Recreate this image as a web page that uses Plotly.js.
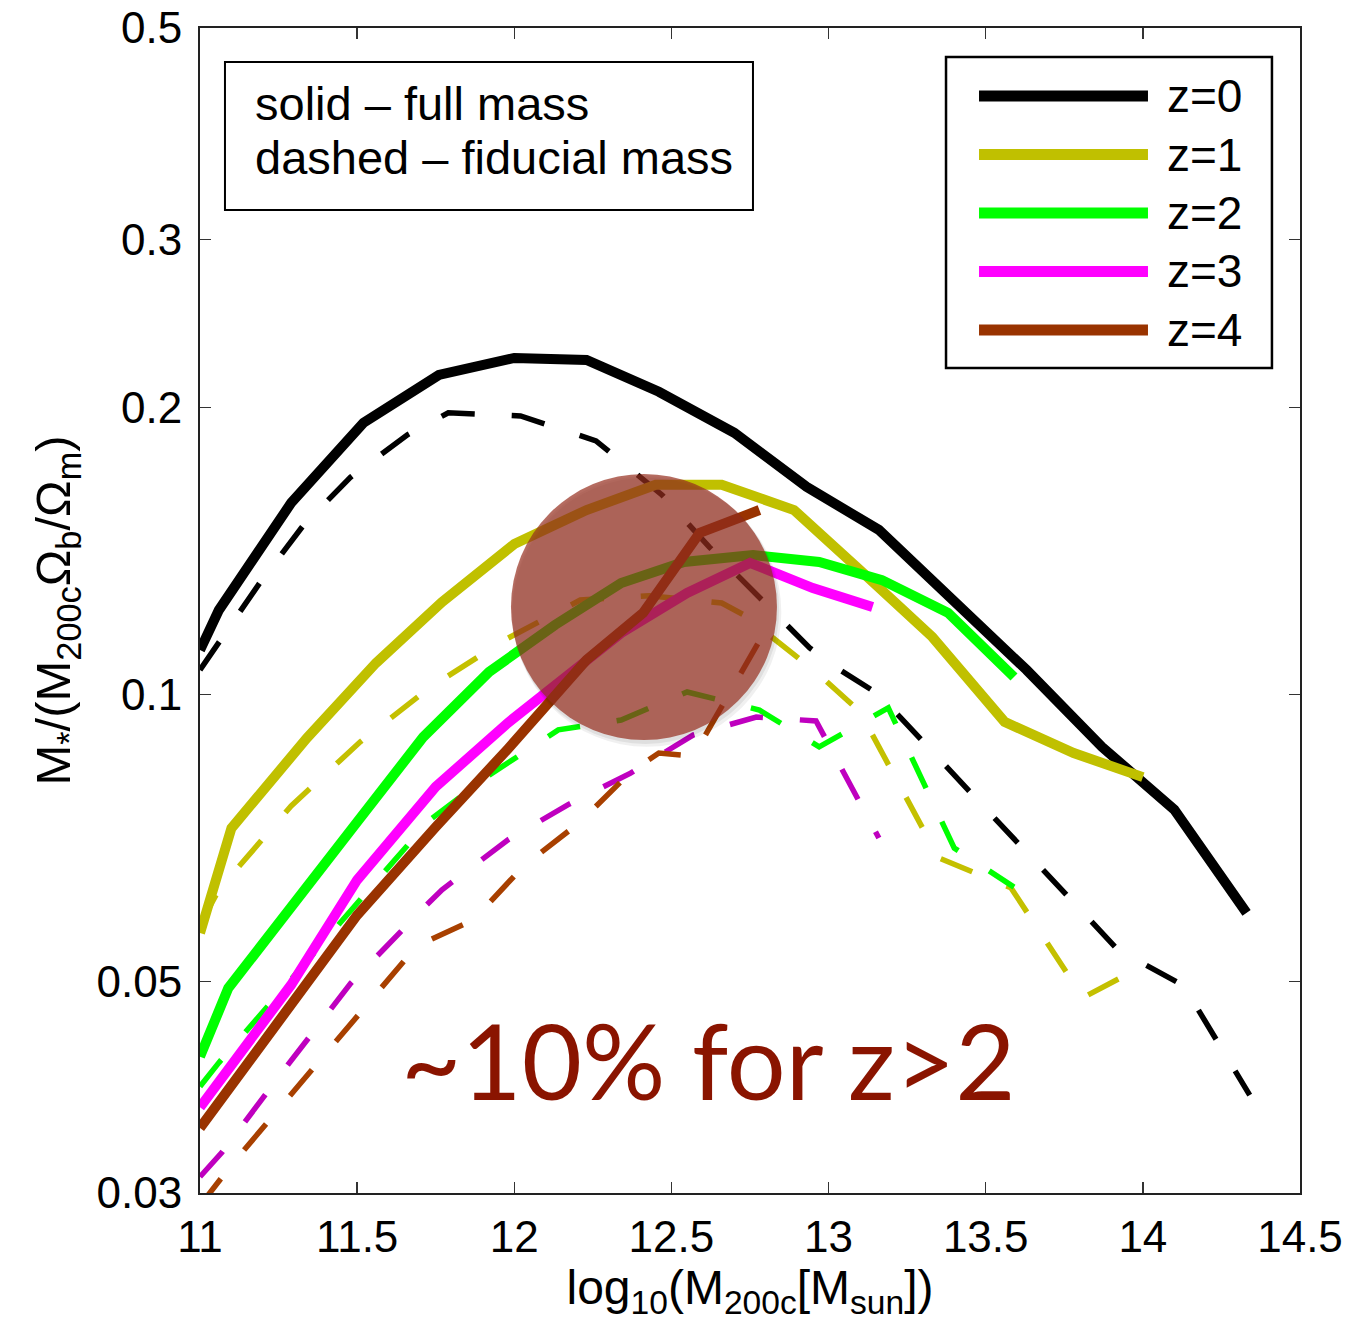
<!DOCTYPE html>
<html><head><meta charset="utf-8">
<script src="https://cdn.plot.ly/plotly-3.0.1.min.js"></script>
<style>html,body{margin:0;padding:0;background:#fff;} #chart{width:1364px;height:1330px;}</style>
</head><body><div id="chart"></div>
<script>
// ---- data ----
const seriesNames = ['z=0', 'z=1', 'z=2', 'z=3', 'z=4'];
const solidColors = ['#000000', '#c0c000', '#00ff00', '#ff00ff', '#993300'];
const dashedColors = ['#000000', '#c4c000', '#00ff00', '#bf00bf', '#a84000'];

// solid - full mass
const z0FullX = [11.0, 11.06, 11.29, 11.52, 11.76, 12.0, 12.23, 12.46, 12.70, 12.93, 13.16, 13.40, 13.63, 13.87, 14.10, 14.33];
const z0FullY = [0.1113, 0.1226, 0.1588, 0.1927, 0.2163, 0.2254, 0.2243, 0.2077, 0.1881, 0.1651, 0.1488, 0.1256, 0.1061, 0.0881, 0.0757, 0.0590];
const z1FullX = [11.0, 11.1, 11.34, 11.56, 11.77, 12.0, 12.23, 12.45, 12.66, 12.89, 13.11, 13.33, 13.56, 13.78, 14.0];
const z1FullY = [0.0562, 0.0724, 0.0900, 0.1079, 0.1250, 0.1438, 0.1561, 0.1659, 0.1659, 0.1561, 0.1341, 0.1149, 0.0936, 0.0868, 0.0819];
const z2FullX = [11.0, 11.09, 11.5, 11.71, 11.92, 12.13, 12.34, 12.54, 12.76, 12.97, 13.17, 13.38, 13.59];
const z2FullY = [0.0417, 0.0492, 0.0735, 0.0902, 0.1056, 0.1183, 0.1309, 0.1377, 0.1400, 0.1377, 0.1318, 0.1218, 0.1043];
const z3FullX = [11.0, 11.29, 11.5, 11.75, 11.98, 12.08, 12.34, 12.55, 12.75, 12.95, 13.14];
const z3FullY = [0.0369, 0.0496, 0.0639, 0.0800, 0.0934, 0.0994, 0.1160, 0.1278, 0.1374, 0.1293, 0.1235];
const z4FullX = [11.0, 11.5, 11.75, 11.98, 12.23, 12.41, 12.59, 12.78];
const z4FullY = [0.0351, 0.0587, 0.0726, 0.0877, 0.1087, 0.1218, 0.1477, 0.1561];

// dashed - fiducial mass
const z0FidX = [11.0, 11.06, 11.19, 11.33, 11.48, 11.66, 11.79, 12.02, 12.26, 12.47, 12.62, 12.94, 13.03, 13.16, 13.92, 14.13, 14.34];
const z0FidY = [0.1061, 0.1135, 0.1309, 0.1506, 0.1691, 0.1872, 0.1974, 0.1959, 0.1845, 0.1619, 0.1428, 0.1119, 0.1064, 0.1000, 0.0540, 0.0495, 0.0380];
const z1FidX = [11.0, 11.06, 11.29, 11.51, 11.73, 11.97, 12.21, 12.43, 12.66, 12.73, 12.96, 13.10, 13.35, 13.58, 13.81, 14.02];
const z1FidY = [0.0573, 0.0624, 0.0764, 0.0892, 0.1016, 0.1141, 0.1256, 0.1269, 0.1247, 0.1212, 0.1056, 0.0959, 0.0674, 0.0627, 0.0481, 0.0523];
const z2FidX = [11.0, 11.06, 11.5, 11.73, 11.92, 12.14, 12.34, 12.55, 12.78, 12.97, 13.19, 13.40, 13.59];
const z2FidY = [0.0388, 0.0411, 0.0604, 0.0738, 0.0823, 0.0918, 0.0940, 0.1006, 0.0963, 0.0881, 0.0968, 0.0690, 0.0628];
const z3FidX = [11.0, 11.07, 11.28, 11.48, 11.72, 11.77, 11.98, 12.17, 12.37, 12.57, 12.77, 12.96, 13.16];
const z3FidY = [0.0312, 0.0331, 0.0409, 0.0498, 0.0601, 0.0624, 0.0704, 0.0766, 0.0827, 0.0907, 0.0947, 0.0938, 0.0707];
const z4FidX = [11.0, 11.1, 11.69, 11.87, 12.03, 12.21, 12.37, 12.46, 12.57, 12.80];
const z4FidY = [0.0291, 0.0321, 0.0545, 0.0580, 0.0661, 0.0735, 0.0829, 0.0868, 0.0862, 0.1169];

const xTickVals = [11, 11.5, 12, 12.5, 13, 13.5, 14, 14.5];
const xTickText = ['11', '11.5', '12', '12.5', '13', '13.5', '14', '14.5'];
const yTickVals = [0.03, 0.05, 0.1, 0.2, 0.3, 0.5];
const yTickText = ['0.03', '0.05', '0.1', '0.2', '0.3', '0.5'];

const noteLines = ['solid \u2013 full mass', 'dashed \u2013 fiducial mass'];
const bigLabel = '~10% for z>2';

// ---- build ----
const fullX = [z0FullX, z1FullX, z2FullX, z3FullX, z4FullX];
const fullY = [z0FullY, z1FullY, z2FullY, z3FullY, z4FullY];
const fidX = [z0FidX, z1FidX, z2FidX, z3FidX, z4FidX];
const fidY = [z0FidY, z1FidY, z2FidY, z3FidY, z4FidY];

const traces = [];
for (let i = 0; i < seriesNames.length; i++) {
  traces.push({
    x: fidX[i], y: fidY[i], type: 'scatter', mode: 'lines', name: seriesNames[i] + ' fiducial',
    line: {color: dashedColors[i], width: 5.5, dash: '34px,37px'}, showlegend: false, hoverinfo: 'skip'
  });
}
for (let i = 0; i < seriesNames.length; i++) {
  traces.push({
    x: fullX[i], y: fullY[i], type: 'scatter', mode: 'lines', name: seriesNames[i],
    line: {color: solidColors[i], width: 10}, showlegend: false, hoverinfo: 'skip'
  });
}

const FONT = 'Liberation Sans, Arial, Helvetica, sans-serif';
const shapes = [];
const annotations = [];

// highlight circle with soft shadow
shapes.push({type: 'circle', xref: 'paper', yref: 'paper', layer: 'above',
  x0: 0.2840, x1: 0.5285, y0: 0.3830, y1: 0.6140, fillcolor: 'rgba(0,0,0,0.06)', line: {width: 0}});
shapes.push({type: 'circle', xref: 'paper', yref: 'paper', layer: 'above',
  x0: 0.2835, x1: 0.5265, y0: 0.3855, y1: 0.6155, fillcolor: 'rgba(0,0,0,0.07)', line: {width: 0}});
shapes.push({type: 'circle', xref: 'paper', yref: 'paper', layer: 'above',
  x0: 0.2827, x1: 0.5245, y0: 0.3888, y1: 0.6172, fillcolor: 'rgba(149,46,30,0.70)', line: {width: 0}});

// note box
shapes.push({type: 'rect', xref: 'paper', yref: 'paper', layer: 'above',
  x0: 0.0227, x1: 0.5027, y0: 0.8438, y1: 0.9708, fillcolor: '#ffffff', line: {color: '#000', width: 2}});
const noteY = [0.9348, 0.8885];
noteLines.forEach((t, k) => annotations.push({xref: 'paper', yref: 'paper', x: 0.0482, y: noteY[k],
  xanchor: 'left', yanchor: 'middle', text: t, showarrow: false, font: {family: FONT, size: 47, color: '#000'}}));

// legend box
shapes.push({type: 'rect', xref: 'paper', yref: 'paper', layer: 'above',
  x0: 0.6782, x1: 0.9745, y0: 0.7082, y1: 0.9751, fillcolor: '#ffffff', line: {color: '#000', width: 2.5}});
for (let i = 0; i < seriesNames.length; i++) {
  const yy = 0.9416 - i * 0.0502;
  shapes.push({type: 'line', xref: 'paper', yref: 'paper', layer: 'above',
    x0: 0.7082, x1: 0.8618, y0: yy, y1: yy, line: {color: solidColors[i], width: 11}});
  annotations.push({xref: 'paper', yref: 'paper', x: 0.8773, y: yy, xanchor: 'left', yanchor: 'middle',
    text: seriesNames[i], showarrow: false, font: {family: FONT, size: 46, color: '#000'}});
}

// big label
annotations.push({xref: 'paper', yref: 'paper', x: 0.4627, y: 0.1142, xanchor: 'center', yanchor: 'middle',
  text: bigLabel, showarrow: false, font: {family: 'Lato, Open Sans, sans-serif', size: 104, color: '#8a1400'}});

const axisCommon = {
  showline: true, linecolor: '#222', linewidth: 2, mirror: 'ticks', ticks: 'inside', ticklen: 11,
  tickwidth: 1.5, tickcolor: '#333', showgrid: false, zeroline: false,
  tickfont: {family: FONT, size: 44, color: '#000'}
};

const layout = {
  width: 1364, height: 1330, autosize: false,
  margin: {l: 200, r: 64, t: 28, b: 137, pad: 0},
  paper_bgcolor: '#ffffff', plot_bgcolor: '#ffffff',
  showlegend: false,
  xaxis: Object.assign({}, axisCommon, {
    range: [11, 14.5], tickmode: 'array', tickvals: xTickVals, ticktext: xTickText,
    ticklabelstandoff: 4,
    title: {text: 'log<sub>10</sub>(M<sub>200c</sub>[M<sub>sun</sub>])', font: {family: FONT, size: 48, color: '#000'}, standoff: 6}
  }),
  yaxis: Object.assign({}, axisCommon, {
    type: 'log', range: [Math.log10(0.03), Math.log10(0.5)], tickmode: 'array', tickvals: yTickVals, ticktext: yTickText,
    ticklabelstandoff: 7,
    title: {text: 'M<sub>*</sub>/(M<sub>200c</sub>\u03A9<sub>b</sub>/\u03A9<sub>m</sub>)', font: {family: FONT, size: 49, color: '#000'}, standoff: 10}
  }),
  shapes: shapes,
  annotations: annotations
};

Plotly.newPlot('chart', traces, layout, {staticPlot: true, displayModeBar: false});
</script>
</body></html>
